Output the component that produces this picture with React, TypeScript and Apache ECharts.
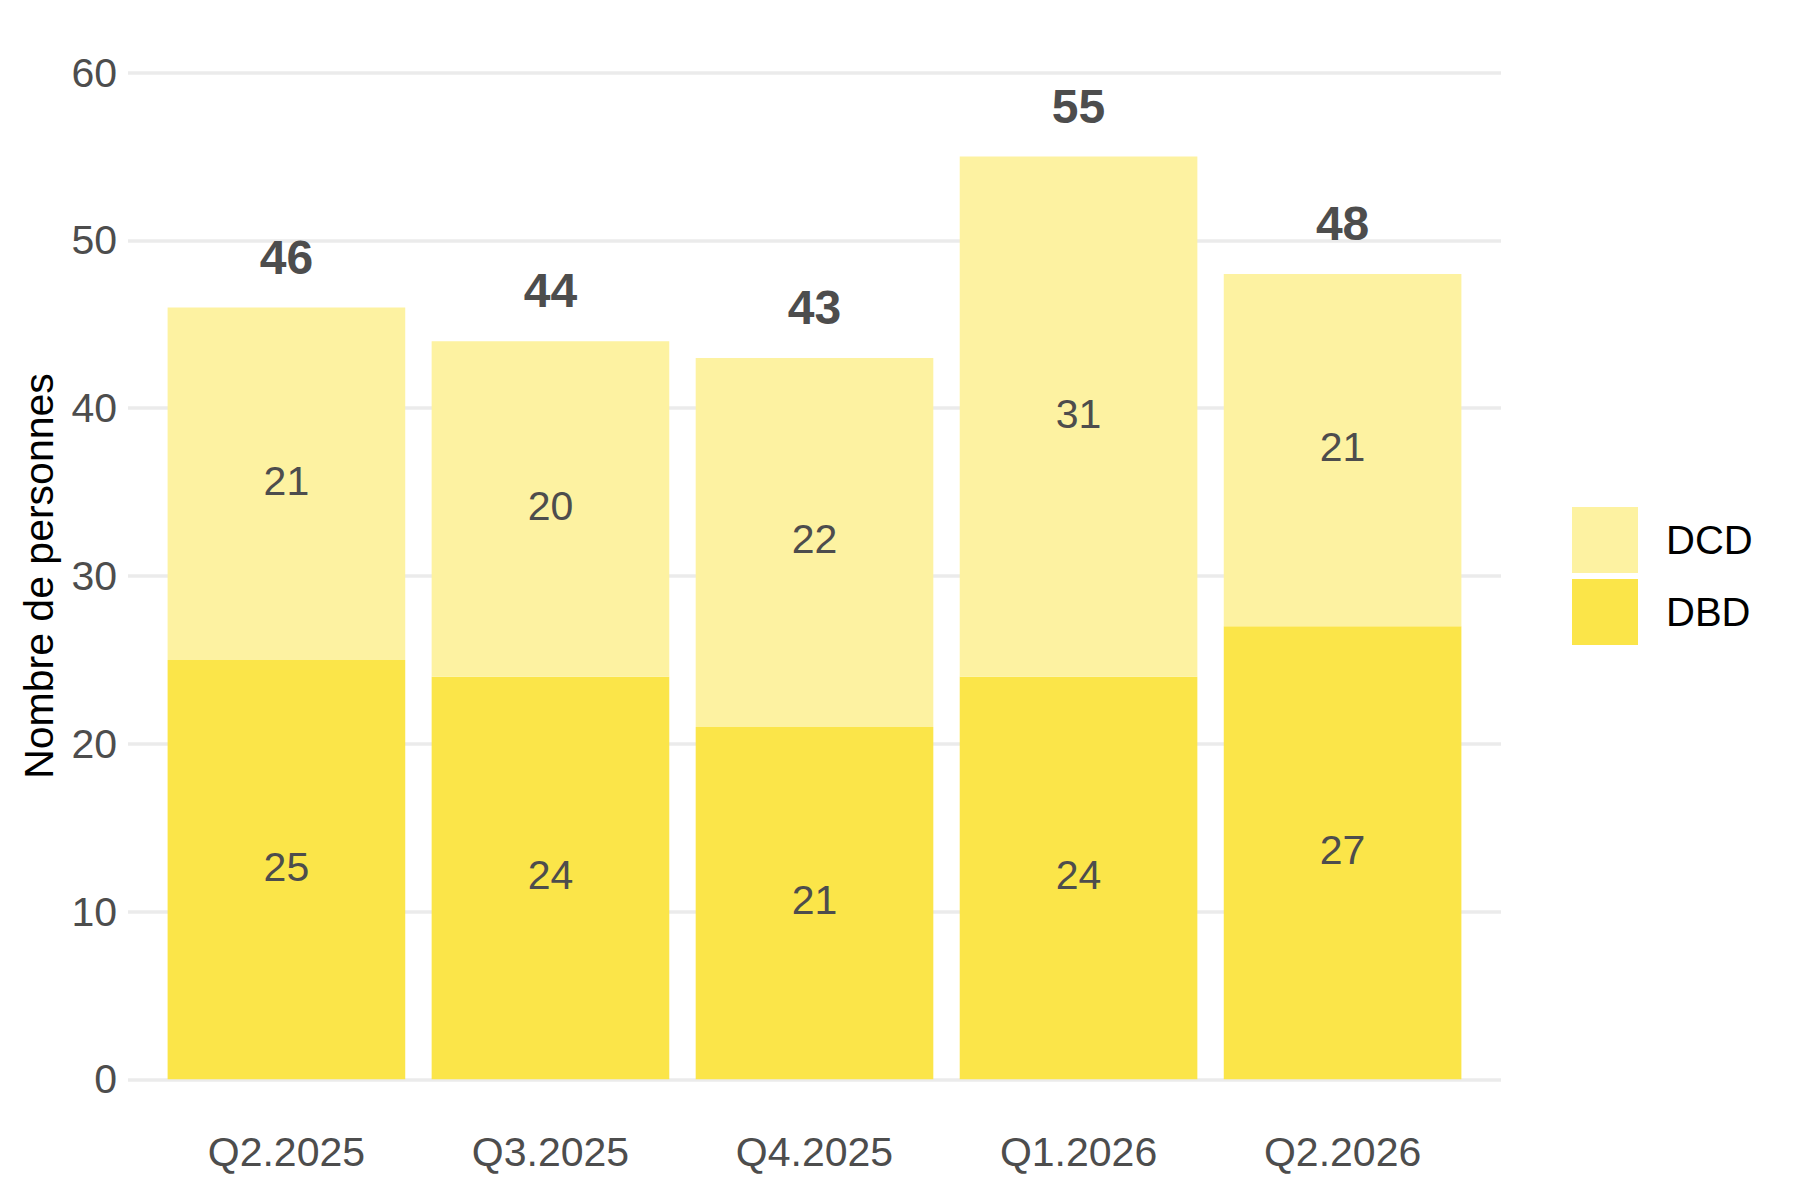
import { useEffect, useRef } from "react";
import * as echarts from "echarts";

const FONT = "'Liberation Sans', Arial, sans-serif";
const TEXT = "#4d4d4d";
const GRID_LINE = "#ebebeb";
const COLOR_DBD = "#fbe549";
const COLOR_DCD = "#fdf2a1";

const categories = ["Q2.2025", "Q3.2025", "Q4.2025", "Q1.2026", "Q2.2026"];
const dbd = [25, 24, 21, 24, 27];
const dcd = [21, 20, 22, 31, 21];
const totals = dbd.map((v, i) => v + dcd[i]);
const yMin = 0;
const yMax = 60;
const yStep = 10;

export default function App() {
  const elRef = useRef<HTMLDivElement>(null);

  useEffect(() => {
    document.body.style.margin = "0";
    const el = elRef.current;
    if (!el) return;
    const chart = echarts.init(el, undefined, { renderer: "svg" });

    // grid 0 porte l'axe Y et les lignes de grille sur toute la largeur,
    // grid 1 porte les barres (bande catégorielle plus étroite, comme l'expansion ggplot)
    const top = 72.7;
    const bottom = 1200 - 1079.3;
    const segLabel = {
      show: true,
      position: "inside",
      color: TEXT,
      fontSize: 41,
      fontFamily: FONT,
      offset: [0, -3],
    };
    chart.setOption({
      animation: false,
      textStyle: { fontFamily: FONT },
      grid: [
        { left: 128, right: 299, top, bottom },
        { left: 154.4, right: 325.4, top, bottom },
      ],
      xAxis: [
        { gridIndex: 0, type: "value", min: 0, max: 1, show: false },
        {
          gridIndex: 1,
          type: "category",
          data: categories,
          axisLine: { show: false },
          axisTick: { show: false },
          axisLabel: { color: TEXT, fontSize: 41, fontFamily: FONT, margin: 52, lineHeight: 41 },
        },
      ],
      yAxis: [
        {
          gridIndex: 0,
          type: "value",
          min: yMin,
          max: yMax,
          interval: yStep,
          axisLine: { show: false },
          axisTick: { show: false },
          axisLabel: { color: TEXT, fontSize: 41, fontFamily: FONT, margin: 11 },
          splitLine: { lineStyle: { color: GRID_LINE, width: 3.5 } },
        },
        { gridIndex: 1, type: "value", min: yMin, max: yMax, show: false },
      ],
      legend: {
        data: ["DCD", "DBD"],
        orient: "vertical",
        left: 1572,
        top: 507,
        padding: 0,
        itemWidth: 66,
        itemHeight: 66,
        itemGap: 6,
        icon: "rect",
        selectedMode: false,
        textStyle: { color: "#000", fontSize: 40, fontFamily: FONT, padding: [0, 0, 0, 23] },
      },
      graphic: [
        {
          type: "text",
          x: 39,
          y: 576,
          rotation: Math.PI / 2,
          style: {
            text: "Nombre de personnes",
            fontSize: 41,
            fontFamily: FONT,
            fill: "#000",
            align: "center",
            verticalAlign: "middle",
          },
        },
      ],
      series: [
        {
          name: "DBD",
          type: "bar",
          stack: "total",
          xAxisIndex: 1,
          yAxisIndex: 1,
          barCategoryGap: "10%",
          data: dbd,
          itemStyle: { color: COLOR_DBD },
          label: segLabel,
        },
        {
          name: "DCD",
          type: "bar",
          stack: "total",
          xAxisIndex: 1,
          yAxisIndex: 1,
          barCategoryGap: "10%",
          data: dcd,
          itemStyle: { color: COLOR_DCD },
          label: segLabel,
        },
        {
          name: "Total",
          type: "scatter",
          xAxisIndex: 1,
          yAxisIndex: 1,
          data: totals,
          symbolSize: 1,
          itemStyle: { color: "rgba(255,255,255,0)", opacity: 1 },
          label: {
            show: true,
            position: "top",
            distance: 26,
            color: TEXT,
            opacity: 1,
            fontSize: 48,
            fontWeight: "bold",
            lineHeight: 48,
            fontFamily: FONT,
          },
        },
      ],
    });

    return () => chart.dispose();
  }, []);

  return <div ref={elRef} style={{ width: 1800, height: 1200 }} />;
}
